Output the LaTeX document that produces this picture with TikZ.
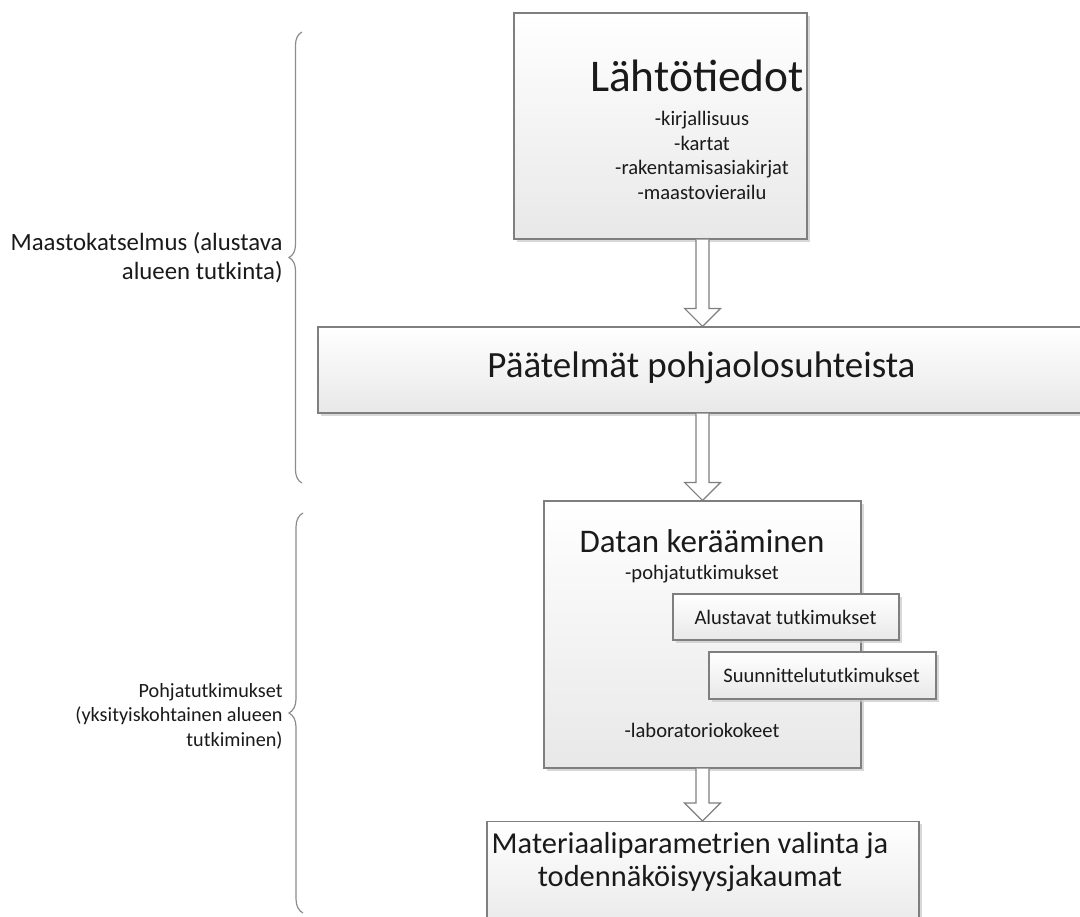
\documentclass[tikz,border=0pt]{standalone}
\usepackage{fontspec}
\setmainfont{Carlito}
\usetikzlibrary{
  arrows.meta, positioning, calc, shadows, decorations.pathreplacing
}
\definecolor{boxline}{HTML}{7F7F7F}
\definecolor{boxlow}{HTML}{E8E8E8}
\definecolor{shadegray}{HTML}{C8C8C8}
\definecolor{bracegray}{HTML}{8C8C8C}
\definecolor{txt}{HTML}{1A1A1A}
\tikzset{
  box/.style={
    draw=boxline, line width=0.6pt, top color=white, bottom color=boxlow,
    inner sep=0pt, text=txt,
    drop shadow={shadow xshift=1.4pt, shadow yshift=-1.4pt, fill=shadegray, opacity=0.7}
  },
  blockarr/.style={draw=boxline, line width=0.6pt, fill=white, line join=miter},
  brc/.style={
    draw=bracegray, line width=0.6pt, decorate,
    decoration={brace, amplitude=#1}
  },
  brc/.default=6.5pt,
  bigtitle/.style={font=\fontsize{22.7}{27}\selectfont, text=txt, inner sep=0pt},
  midtitle/.style={font=\fontsize{16.5}{20}\selectfont, text=txt, inner sep=0pt},
  items/.style={font=\fontsize{10.3}{12.2}\selectfont, text=txt, inner sep=0pt, align=center},
  side/.style={text=txt, inner sep=0pt, align=right, anchor=east}
}
% hollow down arrow: #1 = shaft start, #2 = tip
\newcommand{\downarr}[2]{%
  \draw[blockarr] ($(#1)+(-6.5,0)$) -- ($(#2)+(-6.5,-18)$) -- ($(#2)+(-18,-18)$) -- (#2)
    -- ($(#2)+(18,-18)$) -- ($(#2)+(6.5,-18)$) -- ($(#1)+(6.5,0)$);
}

\begin{document}
\begin{tikzpicture}[x=0.5pt, y=-0.5pt]
  \useasboundingbox (0,0) rectangle (1080,916);

  % boxes
  \node[box, minimum width=146.5pt, minimum height=113pt] (lahto) at (660.5,126) {};
  \node[box, minimum width=383.5pt, minimum height=43pt] (paat) at (701.5,370) {};
  \node[box, minimum width=158.5pt, minimum height=133.5pt] (datan) at (702.5,634.5) {};
  \node[box, minimum width=113pt, minimum height=23pt] (alust) at (786,617) {};
  \node[box, minimum width=113.5pt, minimum height=23.5pt] (suun) at (822.5,675.5) {};
  \node[box, minimum width=216pt, minimum height=56pt, anchor=north] (mat) at (703,821) {};

  % texts
  \node[bigtitle, anchor=base] (lahtottl) at (697,91) {Lähtötiedot};
  \node[items, anchor=base] (lahtoitems) at (702,199)
    {-kirjallisuus\\-kartat\\-rakentamisasiakirjat\\-maastovierailu};
  \node[font=\fontsize{18.5}{22}\selectfont, text=txt, inner sep=0pt, anchor=base] (paattxt) at (701.5,377)
    {Päätelmät pohjaolosuhteista};
  \node[midtitle, anchor=base] (datanttl) at (702,552) {Datan kerääminen};
  \node[items, anchor=base] (pohja) at (702,579) {-pohjatutkimukset};
  \node[items, anchor=base] (alusttxt) at (785.5,624) {Alustavat tutkimukset};
  \node[items, anchor=base] (suuntxt) at (821.5,682) {Suunnittelututkimukset};
  \node[items, anchor=base] (labra) at (702,737) {-laboratoriokokeet};
  \node[font=\fontsize{15.2}{16.5}\selectfont, text=txt, inner sep=0pt, align=center, anchor=base] (mattxt) at (690,886)
    {Materiaaliparametrien valinta ja\\todennäköisyysjakaumat};

  % arrows
  \path (lahto.south -| datan.north) coordinate (a1s) (paat.north -| datan.north) coordinate (a1e);
  \path (paat.south -| datan.north) coordinate (a2s);
  \path (datan.south) coordinate (a3s) (mat.north -| datan.south) coordinate (a3e);
  \downarr{a1s}{a1e}
  \downarr{a2s}{datan.north}
  \downarr{a3s}{a3e}

  % braces
  \coordinate (b1top) at (302,32);
  \coordinate (b1bot) at (302,483);
  \coordinate (b2top) at (303,513);
  \coordinate (b2bot) at (303,913);
  \draw[brc=6.5pt] (b1bot) -- (b1top);
  \draw[brc=7pt] (b2bot) -- (b2top);
  \node[side, font=\fontsize{12.4}{14.6}\selectfont] (maasto) at (283,258) {Maastokatselmus (alustava\\alueen tutkinta)};
  \node[side, font=\fontsize{10.1}{12.2}\selectfont] (pohjatutk) at (283,716) {Pohjatutkimukset\\(yksityiskohtainen alueen\\tutkiminen)};
\end{tikzpicture}
\end{document}
